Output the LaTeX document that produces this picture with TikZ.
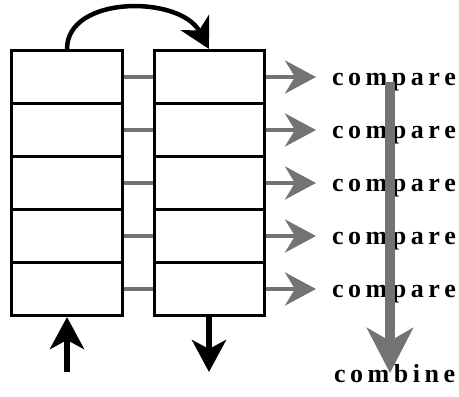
\documentclass[tikz,border=0pt]{standalone}
\usepackage{fontspec}
\setmainfont{Liberation Serif}
\usetikzlibrary{arrows.meta}
\definecolor{checkgray}{gray}{0.45}
\newcommand\lsp{\kern4.5bp}
\tikzset{
  cell/.style={draw=black, line width=3bp, minimum width=110bp, minimum height=53bp, inner sep=0pt},
  graylink/.style={draw=checkgray, line width=4bp},
  grayarrow/.style={draw=checkgray, fill=checkgray, line width=4bp, shorten >=16bp,
     -{Stealth[length=31bp, width=33bp, inset=10bp]}},
  bigdown/.style={draw=checkgray, fill=checkgray, line width=10bp,
     -{Stealth[length=45bp, width=46bp, inset=13bp]}},
  blackarrow/.style={draw=black, line width=6bp, -{Stealth[length=32bp, width=34bp, inset=9bp]}},
  curvearrow/.style={draw=black, line width=4.5bp, -{Stealth[length=30bp, width=32bp, inset=9bp]}},
  word/.style={anchor=base west, inner sep=0pt, font=\fontsize{26bp}{30bp}\selectfont\bfseries}
}
\begin{document}
\begin{tikzpicture}[x=1bp, y=-1bp]
\useasboundingbox (0,0) rectangle (459,396);
% columns
\foreach \i in {1,...,5} {
  \node[cell] (L\i) at (67, 24+53*\i) {};
  \node[cell] (R\i) at (209, 24+53*\i) {};
}
% labels
\foreach \i in {1,...,5} {
  \node[word] (C\i) at (332, 32+53*\i) {c\lsp o\lsp m\lsp p\lsp a\lsp r\lsp e};
}
\node[word] (comb) at (334, 382) {c\lsp o\lsp m\lsp b\lsp i\lsp n\lsp e};
% links between columns and to compare
\foreach \i in {1,...,5} {
  \draw[graylink] (L\i.east) -- (R\i.west);
  \draw[grayarrow] (R\i.east) -- (R\i.east -| C\i.west);
}
% big vertical arrow
\coordinate (vtop) at (390,82);
\coordinate (vbot) at (390,373);
\draw[bigdown] (vtop) -- (vbot);
% curved arrow
\draw[curvearrow] (L1.north) .. controls (67,-5) and (180,-5) .. (R1.north);
% in / out arrows
\coordinate (inbot) at (67,372);
\coordinate (outbot) at (209,372);
\draw[blackarrow] (inbot) -- (L5.south);
\draw[blackarrow] (R5.south) -- (outbot);
\end{tikzpicture}
\end{document}
